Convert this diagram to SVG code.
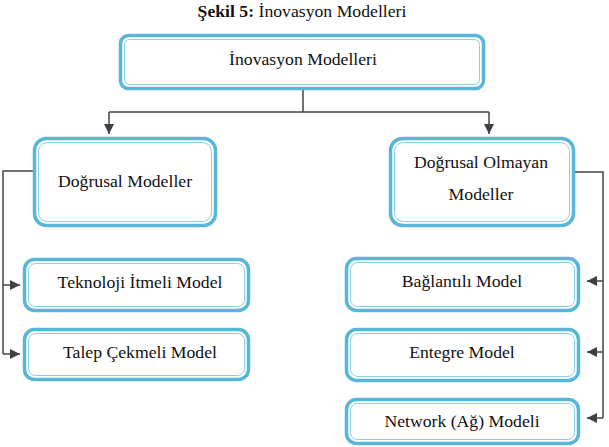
<svg xmlns="http://www.w3.org/2000/svg" width="609" height="447" viewBox="0 0 609 447">
<style>
.o{fill:#fff;stroke:#58b6d9;stroke-width:3.5}
.i{fill:none;stroke:#8ccde6;stroke-width:1}
.t{font-family:'Liberation Serif','Times New Roman',serif;font-size:17.7px;fill:#111;text-anchor:middle}
.c{fill:none;stroke:#444;stroke-width:1.5}
</style>
<defs>
<marker id="a" markerUnits="userSpaceOnUse" markerWidth="12" markerHeight="10" refX="10" refY="5" orient="auto">
<path d="M0,0 L10,5 L0,10 Z" fill="#404040"/>
</marker>
</defs>
<text x="302" y="17" class="t"><tspan font-weight="bold">Şekil 5:</tspan> İnovasyon Modelleri</text>
<g id="connectors">
<path class="c" d="M303,90 V112"/>
<path class="c" d="M109,112 H489"/>
<path class="c" d="M109,112 V134" marker-end="url(#a)"/>
<path class="c" d="M489,112 V134" marker-end="url(#a)"/>
<path class="c" d="M33,171 H3 V354"/>
<path class="c" d="M3,285 H20" marker-end="url(#a)"/>
<path class="c" d="M3,354 H20" marker-end="url(#a)"/>
<path class="c" d="M575,172 H603 V418"/>
<path class="c" d="M603,281 H587" marker-end="url(#a)"/>
<path class="c" d="M603,352 H587" marker-end="url(#a)"/>
<path class="c" d="M603,418 H587" marker-end="url(#a)"/>
</g>
<g id="n0">
<rect class="o" x="120.5" y="35.5" width="363" height="53" rx="8"/>
<rect class="i" x="124.5" y="39.5" width="355" height="45" rx="5"/>
<text class="t" x="303" y="65">İnovasyon Modelleri</text>
</g>
<g id="n1">
<rect class="o" x="34.5" y="138.5" width="181" height="87" rx="12"/>
<rect class="i" x="38.5" y="142.5" width="173" height="79" rx="9"/>
<text class="t" x="125" y="187">Doğrusal Modeller</text>
</g>
<g id="n2">
<rect class="o" x="390.5" y="138.5" width="183" height="87" rx="12"/>
<rect class="i" x="394.5" y="142.5" width="175" height="79" rx="9"/>
<text class="t" x="481" y="168">Doğrusal Olmayan</text>
<text class="t" x="481" y="200">Modeller</text>
</g>
<g id="n3">
<rect class="o" x="24.5" y="259.5" width="224" height="51" rx="10"/>
<rect class="i" x="28.5" y="263.5" width="216" height="43" rx="7"/>
<text class="t" x="140" y="288">Teknoloji İtmeli Model</text>
</g>
<g id="n4">
<rect class="o" x="24.5" y="329.5" width="224" height="50" rx="10"/>
<rect class="i" x="28.5" y="333.5" width="216" height="42" rx="7"/>
<text class="t" x="140" y="358">Talep Çekmeli Model</text>
</g>
<g id="n5">
<rect class="o" x="346.5" y="258.5" width="232" height="52" rx="10"/>
<rect class="i" x="350.5" y="262.5" width="224" height="44" rx="7"/>
<text class="t" x="462" y="287">Bağlantılı Model</text>
</g>
<g id="n6">
<rect class="o" x="346.5" y="329.5" width="232" height="51" rx="10"/>
<rect class="i" x="350.5" y="333.5" width="224" height="43" rx="7"/>
<text class="t" x="462" y="358">Entegre Model</text>
</g>
<g id="n7">
<rect class="o" x="346.5" y="399.5" width="232" height="44" rx="10"/>
<rect class="i" x="350.5" y="403.5" width="224" height="36" rx="7"/>
<text class="t" x="462" y="427">Network (Ağ) Modeli</text>
</g>
</svg>
